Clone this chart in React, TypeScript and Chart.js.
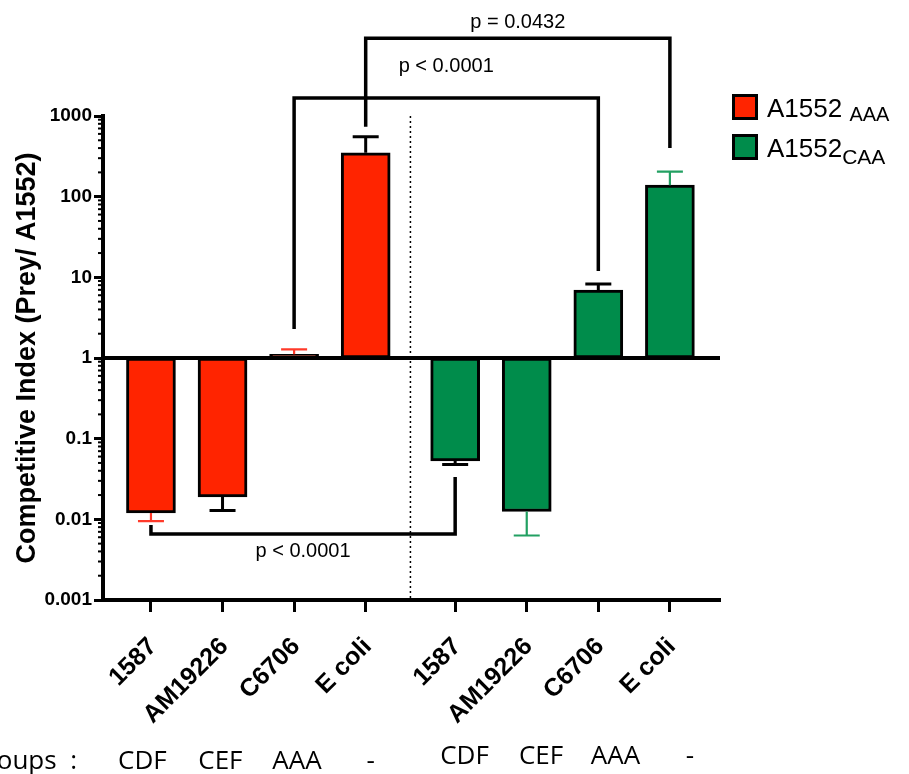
import React, { useEffect, useRef } from "react";
import { Chart, registerables } from "chart.js";

Chart.register(...registerables);

// ---------- data ----------
const categories = ["1587", "AM19226", "C6706", "E coli"];
const groupCodes = ["CDF", "CEF", "AAA", "-"];
const groupCaption = "Groups  :";
const seriesNames = ["A1552", "A1552"];
const seriesSubscripts = ["AAA", "CAA"];
const aaaValues = [0.012, 0.019, 1.11, 350];
const aaaErrorEnds = [0.0095, 0.0129, 1.28, 552];
const caaValues = [0.053, 0.0125, 6.96, 139];
const caaErrorEnds = [0.048, 0.0063, 8.26, 204];
const yTickValues = [0.001, 0.01, 0.1, 1, 10, 100, 1000];
const yTickLabels = ["0.001", "0.01", "0.1", "1", "10", "100", "1000"];
const yTitle = "Competitive Index (Prey/ A1552)";
const pLabels = ["p = 0.0432", "p < 0.0001", "p < 0.0001"];
const bracketFrom = [3, 2, 0];
const bracketTo = [7, 6, 4];
const bracketLevels = [9200, 1670, 0.0066];
const bracketFromEnds = [735, 2.29, 0.0085];
const bracketToEnds = [400, 12.0, 0.0335];

// ---------- styles / layout ----------
const FONT = "'Liberation Sans', Arial, sans-serif";
const RED = "#ff2400";
const GREEN = "#008c4b";
const RED_ERR = "#ff3a2a";
const GREEN_ERR = "#22a062";
const aaaErrorColors = [RED_ERR, "#000", RED_ERR, "#000"];
const caaErrorColors = ["#000", GREEN_ERR, "#000", GREEN_ERR];
const GROUP_GAP = 1.25;
const pLabelOffsets = [-16, -32, 18];
const groupLabelShift = [
  [-0.12, -0.03, 0.04, 0.07],
  [0.13, 0.2, 0.24, 0.28],
];
const subSizes = [20, 21];
const subDrops = [4, 7];

const xPos = (g: number, i: number) => g * (categories.length - 1 + GROUP_GAP) + i;
const barPos = (k: number) => xPos(Math.floor(k / categories.length), k % categories.length);
const allPositions = [0, 1].flatMap((g) => categories.map((_, i) => xPos(g, i)));
const allLabels = [0, 1].flatMap(() => categories);

const overlay = {
  id: "overlay",
  afterDraw(chart: any) {
    const ctx: CanvasRenderingContext2D = chart.ctx;
    const xs = chart.scales.x;
    const ys = chart.scales.y;
    const area = chart.chartArea;
    ctx.save();

    // minor log ticks
    ctx.strokeStyle = "#000";
    ctx.lineWidth = 2;
    for (let e = -3; e < 3; e++) {
      for (let k = 2; k <= 9; k++) {
        const py = ys.getPixelForValue(k * Math.pow(10, e));
        ctx.beginPath();
        ctx.moveTo(area.left - 5, py);
        ctx.lineTo(area.left, py);
        ctx.stroke();
      }
    }

    // dotted separator
    const sepX = xs.getPixelForValue((xPos(0, 3) + xPos(1, 0)) / 2);
    ctx.setLineDash([2, 3]);
    ctx.lineWidth = 1.5;
    ctx.beginPath();
    ctx.moveTo(sepX, area.top);
    ctx.lineTo(sepX, area.bottom);
    ctx.stroke();
    ctx.setLineDash([]);

    // error bars
    const series = [
      { v: aaaValues, e: aaaErrorEnds, c: aaaErrorColors },
      { v: caaValues, e: caaErrorEnds, c: caaErrorColors },
    ];
    series.forEach((s, di) => {
      const meta = chart.getDatasetMeta(di);
      meta.data.forEach((el: any, i: number) => {
        const px = el.x;
        const yEnd = ys.getPixelForValue(s.v[i]);
        const yErr = ys.getPixelForValue(s.e[i]);
        ctx.strokeStyle = s.c[i];
        ctx.lineWidth = s.c[i] === "#000" ? 3 : 2.2;
        ctx.beginPath();
        ctx.moveTo(px, yEnd);
        ctx.lineTo(px, yErr);
        ctx.moveTo(px - 13, yErr);
        ctx.lineTo(px + 13, yErr);
        ctx.stroke();
      });
    });

    // baseline at 1
    const p1 = ys.getPixelForValue(1);
    ctx.strokeStyle = "#000";
    ctx.lineWidth = 4;
    ctx.beginPath();
    ctx.moveTo(area.left, p1);
    ctx.lineTo(area.right, p1);
    ctx.stroke();

    // significance brackets
    ctx.lineWidth = 3.5;
    ctx.lineJoin = "miter";
    ctx.lineCap = "butt";
    ctx.fillStyle = "#000";
    ctx.font = `20px ${FONT}`;
    ctx.textAlign = "center";
    ctx.textBaseline = "middle";
    pLabels.forEach((lab, b) => {
      const xa = xs.getPixelForValue(barPos(bracketFrom[b]));
      const xb = xs.getPixelForValue(barPos(bracketTo[b]));
      const yl = ys.getPixelForValue(bracketLevels[b]);
      const ya = ys.getPixelForValue(bracketFromEnds[b]);
      const yb = ys.getPixelForValue(bracketToEnds[b]);
      ctx.beginPath();
      ctx.moveTo(xa, ya);
      ctx.lineTo(xa, yl);
      ctx.lineTo(xb, yl);
      ctx.lineTo(xb, yb);
      ctx.stroke();
      ctx.fillText(lab, (xa + xb) / 2, yl + pLabelOffsets[b]);
    });

    // legend
    const colors = [RED, GREEN];
    seriesNames.forEach((name, i) => {
      const top = 94 + i * 40;
      ctx.fillStyle = "#000";
      ctx.fillRect(732, top, 26, 26);
      ctx.fillStyle = colors[i];
      ctx.fillRect(735, top + 3, 20, 20);
      ctx.fillStyle = "#000";
      ctx.textAlign = "left";
      ctx.textBaseline = "alphabetic";
      ctx.font = `26px ${FONT}`;
      const base = top + 23;
      ctx.fillText(name, 767, base);
      const w = ctx.measureText(name + (i === 0 ? " " : "")).width;
      ctx.font = `${subSizes[i]}px ${FONT}`;
      ctx.fillText(seriesSubscripts[i], 767 + w, base + subDrops[i]);
    });

    // group codes
    ctx.font = `26px 'Open Sans', sans-serif`;
    ctx.textBaseline = "alphabetic";
    ctx.textAlign = "right";
    ctx.fillText(groupCaption, 77, 769);
    ctx.textAlign = "center";
    [0, 1].forEach((g) => {
      groupCodes.forEach((code, i) => {
        const px = xs.getPixelForValue(xPos(g, i) + groupLabelShift[g][i]);
        ctx.fillText(code, px, g === 0 ? 769 : 764);
      });
    });

    ctx.restore();
  },
};

export default function App() {
  const ref = useRef<HTMLCanvasElement>(null);
  useEffect(() => {
    const chart = new Chart(ref.current as HTMLCanvasElement, {
      type: "bar",
      data: {
        datasets: [
          {
            label: seriesNames[0] + " " + seriesSubscripts[0],
            data: aaaValues.map((v, i) => ({ x: xPos(0, i), y: [1, v] })) as any,
            backgroundColor: RED,
            borderColor: "#000",
            borderWidth: 3,
            borderSkipped: false,
            barThickness: 49,
            grouped: false,
          } as any,
          {
            label: seriesNames[1] + seriesSubscripts[1],
            data: caaValues.map((v, i) => ({ x: xPos(1, i), y: [1, v] })) as any,
            backgroundColor: GREEN,
            borderColor: "#000",
            borderWidth: 3,
            borderSkipped: false,
            barThickness: 49,
            grouped: false,
          } as any,
        ],
      },
      options: {
        responsive: false,
        animation: false,
        layout: { padding: { top: 116, right: 189, left: 0, bottom: 0 } },
        plugins: { legend: { display: false }, tooltip: { enabled: false } },
        scales: {
          x: {
            type: "linear",
            min: -0.67,
            max: 7.95,
            offset: false,
            afterBuildTicks: (s: any) => {
              s.ticks = allPositions.map((v) => ({ value: v }));
            },
            afterFit: (s: any) => {
              s.height = 174;
            },
            ticks: {
              autoSkip: false,
              minRotation: 45,
              maxRotation: 45,
              padding: 20,
              labelOffset: 2,
              color: "#000",
              font: { family: FONT, size: 25, weight: "bold" },
              callback: (_v: any, i: number) => allLabels[i],
            },
            grid: {
              drawOnChartArea: false,
              offset: false,
              tickLength: 12,
              tickWidth: 3,
              tickColor: "#000",
            },
            border: { display: true, color: "#000", width: 4 },
          } as any,
          y: {
            type: "logarithmic",
            min: 0.001,
            max: 1000,
            afterBuildTicks: (s: any) => {
              s.ticks = yTickValues.map((v) => ({ value: v, major: true }));
            },
            afterFit: (s: any) => {
              s.width = 103;
            },
            ticks: {
              autoSkip: false,
              padding: 2,
              color: "#000",
              font: { family: FONT, size: 19, weight: "bold" },
              callback: (v: any) => {
                let best = 0;
                yTickValues.forEach((t, i) => {
                  if (Math.abs(Math.log10(t) - Math.log10(v)) < Math.abs(Math.log10(yTickValues[best]) - Math.log10(v))) best = i;
                });
                return yTickLabels[best];
              },
            },
            grid: {
              drawOnChartArea: false,
              tickLength: 9,
              tickWidth: 3,
              tickColor: "#000",
            },
            border: { display: true, color: "#000", width: 4 },
            title: {
              display: true,
              text: yTitle,
              color: "#000",
              font: { family: FONT, size: 27, weight: "bold" },
              padding: { top: 11, bottom: 0 },
            },
          } as any,
        },
      },
      plugins: [overlay],
    });
    return () => chart.destroy();
  }, []);
  return (
    <div style={{ position: "fixed", left: 0, top: 0, width: 909, height: 774, background: "#fff" }}>
      <canvas ref={ref} width={909} height={774} />
    </div>
  );
}
